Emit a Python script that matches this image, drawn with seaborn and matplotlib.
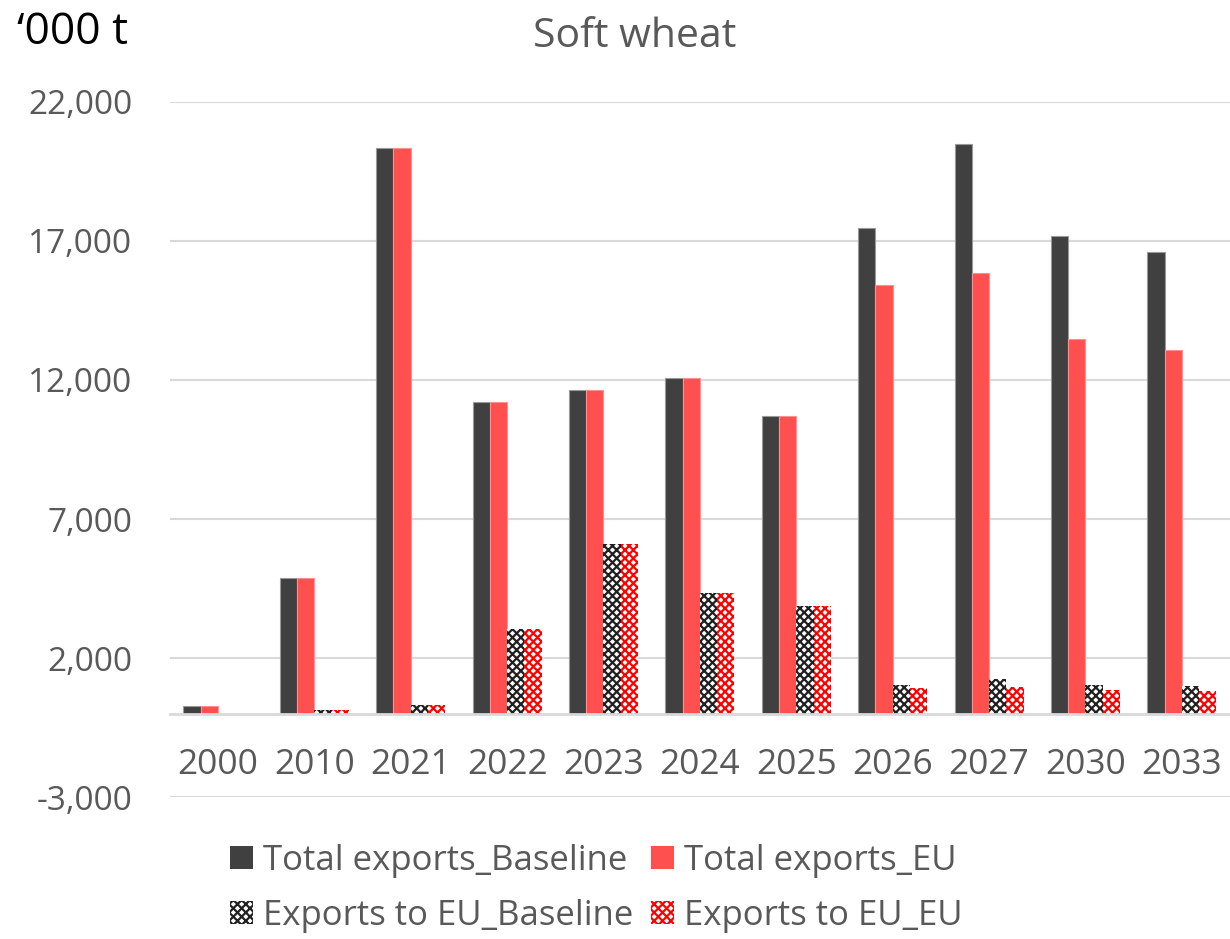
import matplotlib
matplotlib.use("Agg")
import matplotlib.pyplot as plt
import seaborn as sns
import pandas as pd
from matplotlib.patches import Patch
from matplotlib.ticker import FuncFormatter

years = ["2000", "2010", "2021", "2022", "2023", "2024", "2025", "2026", "2027", "2030", "2033"]
series = ["Total exports_Baseline", "Total exports_EU", "Exports to EU_Baseline", "Exports to EU_EU"]
total_baseline = [270, 4880, 20350, 11210, 11640, 12070, 10700, 17470, 20490, 17180, 16600]
total_eu = [270, 4880, 20350, 11210, 11640, 12070, 10700, 15420, 15850, 13480, 13080]
to_eu_baseline = [0, 130, 300, 3040, 6100, 4340, 3870, 1030, 1240, 1030, 990]
to_eu_eu = [0, 130, 300, 3040, 6100, 4340, 3870, 920, 960, 850, 830]
yticks = [-3000, 2000, 7000, 12000, 17000, 22000]

colors = ["#404040", "#ff5050", "#ffffff", "#ffffff"]
hatch_colors = [None, None, "#202020", "#ff0000"]

rows = []
for s, vals in zip(series, [total_baseline, total_eu, to_eu_baseline, to_eu_eu]):
    for y, v in zip(years, vals):
        rows.append({"year": y, "series": s, "value": v})
df = pd.DataFrame(rows)

sns.set_theme(style="white")
plt.rcParams["font.family"] = ["Open Sans", "DejaVu Sans"]
plt.rcParams["hatch.linewidth"] = 1.6

fig = plt.figure(figsize=(12.3, 9.39), dpi=100)
ax = fig.add_axes([0.138, 0.1512, 0.862, 0.7402])

sns.barplot(data=df, x="year", y="value", hue="series", hue_order=series,
            palette=colors, width=0.716, ax=ax, legend=False, saturation=1,
            edgecolor="none", linewidth=0)

for i, cont in enumerate(ax.containers):
    for p in cont.patches:
        if hatch_colors[i] is not None:
            p.set_facecolor("white")
            p.set_hatch("xxxx")
            p.set_edgecolor(hatch_colors[i])
            p.set_linewidth(0)
        else:
            p.set_edgecolor("#9a9a9a" if i == 0 else "#ff9090")
            p.set_linewidth(0.8)

ax.set_ylim(-3000, 22000)
ax.set_xlim(-0.5, 10.5)
ax.set_yticks(yticks)
ax.yaxis.set_major_formatter(FuncFormatter(lambda v, _: f"{int(v):,}"))
for y in yticks:
    ax.axhline(y, color="#d9d9d9", lw=1.5, zorder=0)
for s in ["top", "right", "left"]:
    ax.spines[s].set_visible(False)
ax.spines["bottom"].set_position(("data", 0))
ax.spines["bottom"].set_color("#d9d9d9")
ax.spines["bottom"].set_linewidth(2)
ax.spines["bottom"].set_zorder(1)
ax.tick_params(axis="x", length=0, pad=25, labelsize=25.5, labelcolor="#595959")
ax.tick_params(axis="y", length=0, pad=27, labelsize=24, labelcolor="#595959")
ax.set_xlabel("")
ax.set_ylabel("")

fig.text(0.516, 0.961, "Soft wheat", ha="center", va="center", fontsize=29.5, color="#595959")
fig.text(0.014, 0.965, "\u2018000 t", ha="left", va="center", fontsize=32, color="black")

handles = []
for c, hc in zip(colors, hatch_colors):
    if hc is None:
        handles.append(Patch(facecolor=c, edgecolor="none"))
    else:
        handles.append(Patch(facecolor="white", edgecolor=hc, hatch="xxxx", linewidth=0))
order = [0, 2, 1, 3]
fig.legend([handles[i] for i in order], [series[i] for i in order], loc="center",
           bbox_to_anchor=(0.485, 0.054), ncol=2,
           frameon=False, fontsize=25, labelcolor="#595959", handlelength=0.65,
           handleheight=0.65, handletextpad=0.3, columnspacing=0.5, labelspacing=0.6,
           borderpad=0.2)

fig.savefig("out.png", dpi=100)
